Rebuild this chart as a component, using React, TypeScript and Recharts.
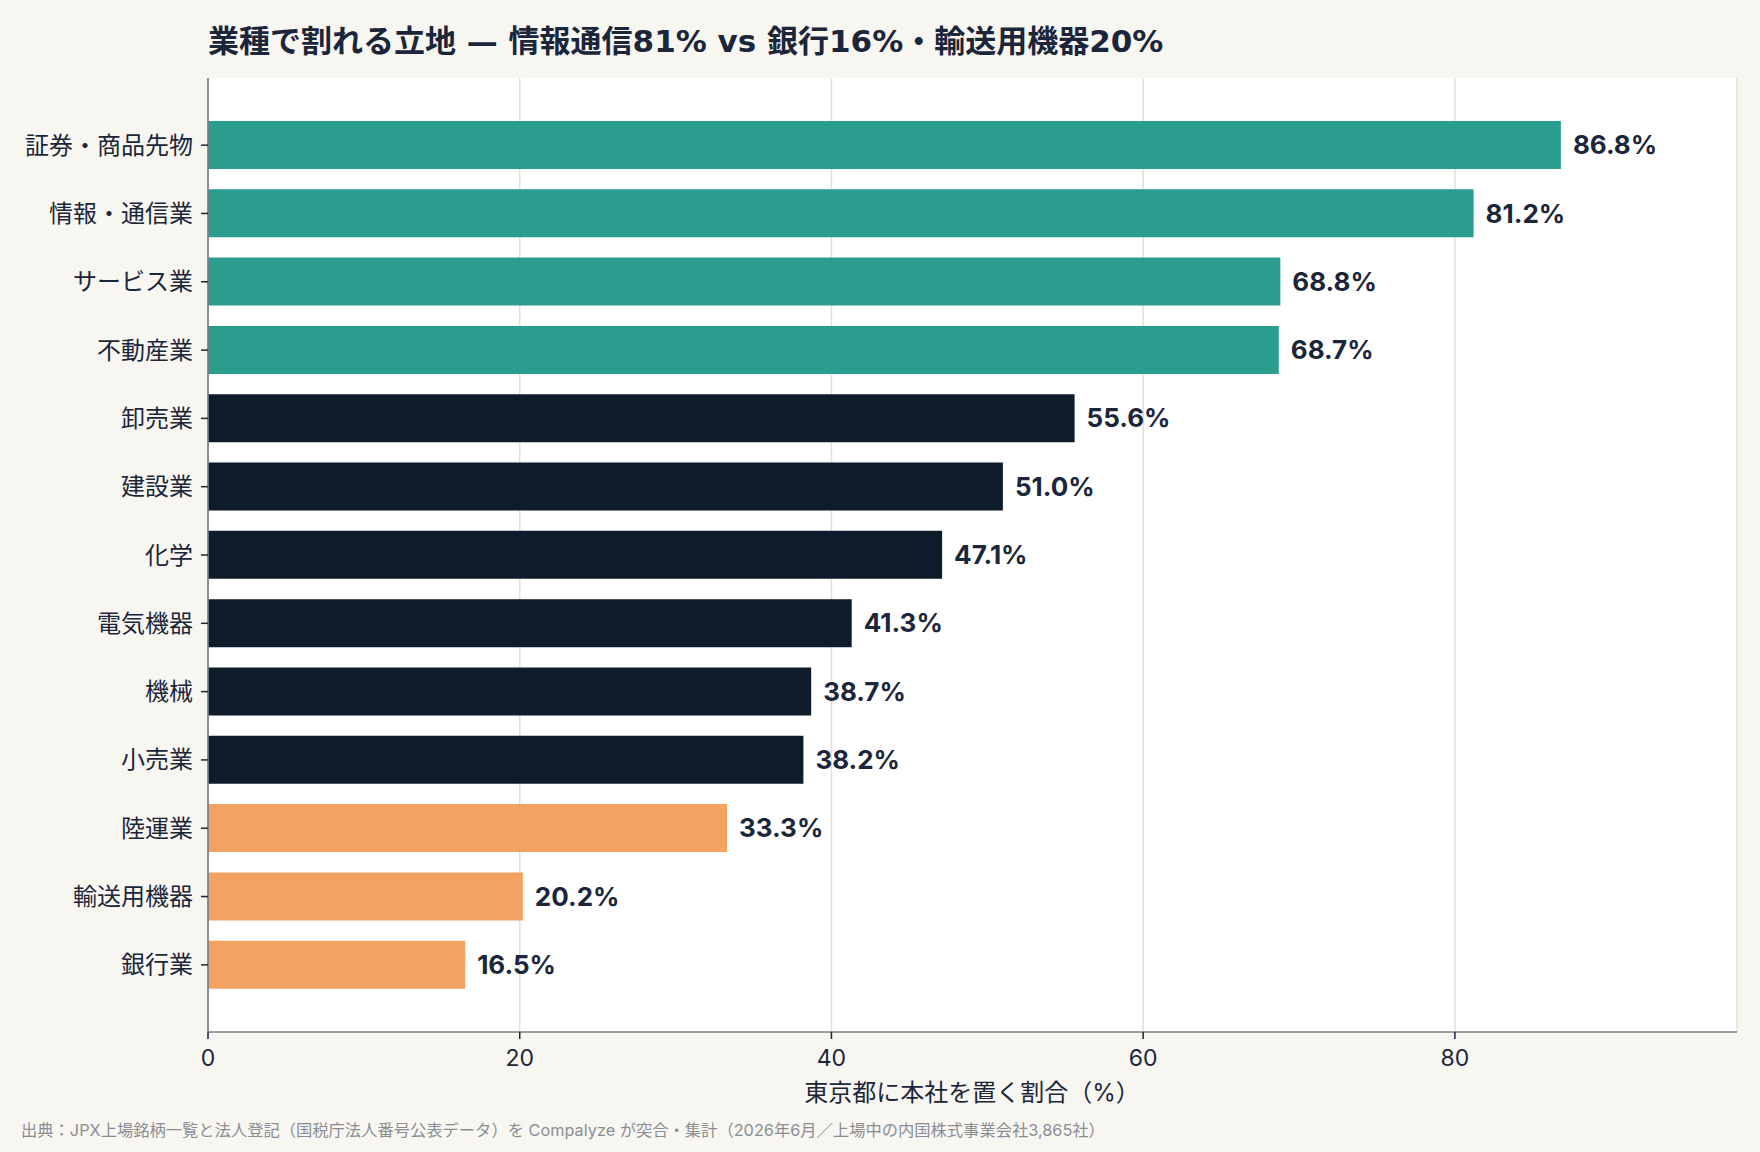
import React from 'react';
import { BarChart, Bar, XAxis, YAxis, CartesianGrid, Cell, LabelList } from 'recharts';

// Share of listed companies headquartered in Tokyo, by industry (%)
const industries = [
  '証券・商品先物',
  '情報・通信業',
  'サービス業',
  '不動産業',
  '卸売業',
  '建設業',
  '化学',
  '電気機器',
  '機械',
  '小売業',
  '陸運業',
  '輸送用機器',
  '銀行業',
];
const tokyoShare = [86.8, 81.2, 68.8, 68.7, 55.6, 51.0, 47.1, 41.3, 38.7, 38.2, 33.3, 20.2, 16.5];
const tier = ['high', 'high', 'high', 'high', 'mid', 'mid', 'mid', 'mid', 'mid', 'mid', 'low', 'low', 'low'];
const xTicks = [0, 20, 40, 60, 80];

const tierColor: Record<string, string> = {
  high: '#2a9d8f',
  mid: '#0d1b2a',
  low: '#f4a261',
};

const rows = industries.map((name, i) => ({ name, value: tokyoShare[i], tier: tier[i] }));

const W = 1760;
const H = 1152;
// Latin glyphs from Inter, Japanese glyphs from Noto Sans CJK
const FONT = 'Inter, "Noto Sans CJK JP", sans-serif';
// Wider Latin face for the heading
const TITLE_FONT = '"DejaVu Sans", "Noto Sans CJK JP", sans-serif';
const INK = '#1b263b';
const BG = '#f8f6f0';

export default function App() {
  return (
    <div style={{ position: 'absolute', left: 0, top: 0, width: W, height: H, background: BG, fontFamily: FONT }}>
      <BarChart
        width={W}
        height={H}
        data={rows}
        layout="vertical"
        margin={{ top: 78, right: 23, bottom: 60, left: 8 }}
        barSize={48}
      >
        <CartesianGrid horizontal={false} vertical stroke="#e3e0d8" strokeWidth={1.5} fill="#ffffff" />
        <XAxis
          type="number"
          dataKey="value"
          domain={[0, 98.1]}
          ticks={xTicks}
          allowDataOverflow
          height={60}
          tickSize={7}
          tickMargin={11}
          axisLine={{ stroke: '#7b7f85', strokeWidth: 1.7 }}
          tickLine={{ stroke: INK, strokeWidth: 1.5 }}
          tick={{ fill: INK, fontSize: 23, fontFamily: FONT }}
        />
        <YAxis
          type="category"
          dataKey="name"
          width={200}
          padding={{ top: 33, bottom: 33 }}
          tickSize={7}
          tickMargin={8}
          interval={0}
          axisLine={{ stroke: '#7b7f85', strokeWidth: 1.7 }}
          tickLine={{ stroke: INK, strokeWidth: 1.5 }}
          tick={{ fill: INK, fontSize: 24, fontFamily: FONT }}
        />
        <Bar dataKey="value" isAnimationActive={false}>
          {rows.map((r) => (
            <Cell key={r.name} fill={tierColor[r.tier]} />
          ))}
          <LabelList
            dataKey="value"
            position="right"
            offset={12}
            formatter={(v: number) => `${Number(v).toFixed(1)}%`}
            style={{ fill: INK, fontSize: 26, fontWeight: 700, fontFamily: FONT }}
          />
        </Bar>
      </BarChart>
      <svg
        width={W}
        height={H}
        style={{ position: 'absolute', left: 0, top: 0, pointerEvents: 'none' }}
      >
        <text x={208} y={52} fill={INK} fontSize={31} fontWeight={700} fontFamily={TITLE_FONT}>
          業種で割れる立地 — 情報通信81% vs 銀行16%・輸送用機器20%
        </text>
        <text x={972} y={1101} fill={INK} fontSize={24} fontFamily={FONT} textAnchor="middle">
          東京都に本社を置く割合（%）
        </text>
        <text x={21} y={1136} fill="#8a8e94" fontSize={16.3} fontFamily={FONT}>
          出典：JPX上場銘柄一覧と法人登記（国税庁法人番号公表データ）を Compalyze が突合・集計（2026年6月／上場中の内国株式事業会社3,865社）
        </text>
      </svg>
    </div>
  );
}
